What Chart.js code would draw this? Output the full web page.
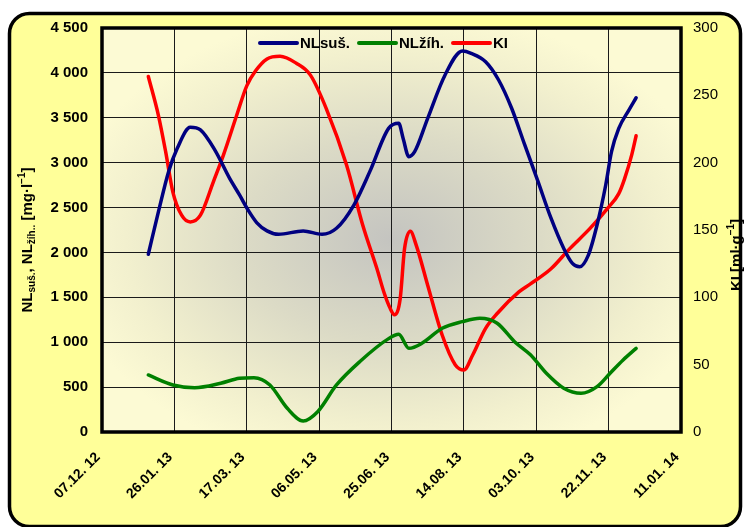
<!DOCTYPE html>
<html>
<head>
<meta charset="utf-8">
<script src="https://cdn.jsdelivr.net/npm/chart.js@4.4.1/dist/chart.umd.min.js"></script>
<style>
html,body{margin:0;padding:0;background:#fff;}
#wrap{width:744px;height:527px;position:relative;}
</style>
</head>
<body>
<div id="wrap"><canvas id="c" width="744" height="527"></canvas></div>
<script>
// ---- Data (x = days after 07.12.2012) ----
const xTickDays = [0, 50, 100, 150, 200, 250, 300, 350, 400];
const xTickLabels = ['07.12. 12', '26.01. 13', '17.03. 13', '06.05. 13', '25.06. 13', '14.08. 13', '03.10. 13', '22.11. 13', '11.01. 14'];

const seriesLabels = ['NLsuš.', 'NLžíh.', 'KI'];
const seriesColors = ['#000080', '#008000', '#FF0000'];

const nlSusDays   = [32, 39, 46, 52, 61, 68, 78, 88, 95, 101, 107, 114, 122, 139, 152, 162, 174, 185, 198, 205, 208, 212, 216, 225, 237, 249, 255, 265, 274, 283, 292, 301, 310, 319, 325, 330, 336, 342, 348, 352, 357, 364, 369];
const nlSusValues = [1980, 2454, 2900, 3160, 3395, 3365, 3140, 2830, 2640, 2470, 2330, 2240, 2202, 2239, 2202, 2269, 2528, 2900, 3382, 3439, 3272, 3067, 3122, 3494, 3977, 4244, 4218, 4124, 3921, 3606, 3200, 2800, 2390, 2045, 1878, 1841, 1971, 2306, 2751, 3122, 3382, 3586, 3723];

const nlZihDays   = [32, 49, 64, 82, 95, 105, 116, 128, 139, 149, 162, 178, 198, 205, 212, 221, 235, 249, 261, 273, 285, 296, 307, 319, 331, 342, 351, 360, 369];
const nlZihValues = [635, 524, 494, 543, 598, 605, 524, 264, 123, 226, 524, 783, 1040, 1088, 932, 988, 1155, 1229, 1266, 1211, 1006, 860, 654, 487, 431, 505, 654, 802, 932];

const kiDays   = [32, 39, 44, 49, 55, 61, 68, 77, 84, 93, 100, 106, 114, 123, 134, 144, 155, 169, 180, 190, 195, 199, 202, 206, 209, 213, 217, 225, 235, 244, 250, 256, 265, 273, 288, 296, 310, 323, 337, 350, 357, 361, 366, 369];
const kiValues = [264, 235, 208, 178, 161, 156, 161, 186, 206, 235, 257, 268, 277, 279, 274, 265, 240, 198, 154, 121, 103, 92, 87, 99, 136, 149, 139, 109, 72, 50, 46, 57, 77, 88, 104, 110, 121, 136, 151, 167, 177, 188, 206, 220];

const leftTitleParts = [
  {t: 'NL', s: 15, dy: 0}, {t: 'suš.', s: 10, dy: 4},
  {t: ', NL', s: 15, dy: 0}, {t: 'žíh..', s: 10, dy: 4},
  {t: ' [mg·l', s: 15, dy: 0}, {t: '−1', s: 10, dy: -6}, {t: ']', s: 15, dy: 0}
];
const rightTitleParts = [
  {t: 'KI [ml·g', s: 15, dy: 0}, {t: '−1', s: 10, dy: -6}, {t: ']', s: 15, dy: 0}
];

const FONT = "'Liberation Sans', Arial, sans-serif";
Chart.defaults.font.family = FONT;
Chart.defaults.color = '#000';

function pts(xs, ys) { return xs.map((x, i) => ({x: x, y: ys[i]})); }
function fmtThousands(v) { return String(v).replace(/\B(?=(\d{3})+(?!\d))/g, ' '); }

function drawRich(ctx, parts, cx, cy) {
  ctx.save();
  ctx.translate(cx, cy);
  ctx.rotate(-Math.PI / 2);
  ctx.textBaseline = 'middle';
  ctx.textAlign = 'left';
  ctx.fillStyle = '#000';
  let total = 0;
  parts.forEach(p => { ctx.font = 'bold ' + p.s + 'px ' + FONT; p.w = ctx.measureText(p.t).width; total += p.w; });
  let x = -total / 2;
  parts.forEach(p => { ctx.font = 'bold ' + p.s + 'px ' + FONT; ctx.fillText(p.t, x, p.dy); x += p.w; });
  ctx.restore();
}

const decorPlugin = {
  id: 'decor',
  beforeDraw(chart) {
    const ctx = chart.ctx;
    const a = chart.chartArea;
    ctx.save();
    ctx.fillStyle = '#fff';
    ctx.fillRect(0, 0, chart.width, chart.height);
    ctx.beginPath();
    ctx.roundRect(9.5, 13.5, 731, 513, 20);
    ctx.fillStyle = '#FFFF99';
    ctx.fill();
    ctx.lineWidth = 3.5;
    ctx.strokeStyle = '#000';
    ctx.stroke();
    // plot area gradient
    ctx.save();
    ctx.beginPath();
    ctx.rect(a.left, a.top, a.right - a.left, a.bottom - a.top);
    ctx.clip();
    const cx = (a.left + a.right) / 2, cy = (a.top + a.bottom) / 2 + 10;
    ctx.translate(cx, cy);
    ctx.scale((a.right - a.left) / 2, (a.bottom - a.top) / 2);
    const g = ctx.createRadialGradient(0, 0, 0, 0, 0, 1.15);
    g.addColorStop(0, '#C4C4C0');
    g.addColorStop(0.45, '#DCDBC6');
    g.addColorStop(0.8, '#F2F0CE');
    g.addColorStop(1, '#FCFAD4');
    ctx.fillStyle = g;
    ctx.fillRect(-2, -2, 4, 4);
    ctx.restore();
    ctx.restore();
  },
  afterDraw(chart) {
    const ctx = chart.ctx;
    const a = chart.chartArea;
    ctx.save();
    ctx.lineWidth = 3.5;
    ctx.strokeStyle = '#000';
    ctx.strokeRect(a.left, a.top, a.right - a.left, a.bottom - a.top);
    // legend
    let x = 260;
    const y = 43;
    ctx.font = 'bold 15px ' + FONT;
    ctx.textBaseline = 'middle';
    chart.data.datasets.forEach(ds => {
      ctx.beginPath();
      ctx.moveTo(x, y);
      ctx.lineTo(x + 37, y);
      ctx.lineWidth = 4;
      ctx.lineCap = 'round';
      ctx.strokeStyle = ds.borderColor;
      ctx.stroke();
      ctx.fillStyle = '#000';
      ctx.fillText(ds.label, x + 40, y + 1);
      x += 40 + ctx.measureText(ds.label).width + 9;
    });
    ctx.restore();
    drawRich(ctx, leftTitleParts, 28, 240);
    drawRich(ctx, rightTitleParts, 737, 255);
  }
};

new Chart(document.getElementById('c'), {
  type: 'line',
  data: {
    datasets: [
      {label: seriesLabels[0], data: pts(nlSusDays, nlSusValues), borderColor: seriesColors[0], yAxisID: 'y'},
      {label: seriesLabels[1], data: pts(nlZihDays, nlZihValues), borderColor: seriesColors[1], yAxisID: 'y'},
      {label: seriesLabels[2], data: pts(kiDays, kiValues), borderColor: seriesColors[2], yAxisID: 'y1'}
    ].map(d => Object.assign(d, {borderWidth: 3.5, pointRadius: 0, cubicInterpolationMode: 'monotone', fill: false, borderCapStyle: 'round', borderJoinStyle: 'round'}))
  },
  options: {
    responsive: false,
    animation: false,
    devicePixelRatio: 1,
    layout: {padding: {top: 28, left: 0, right: 0, bottom: 0}},
    plugins: {legend: {display: false}, tooltip: {enabled: false}},
    scales: {
      x: {
        type: 'linear', min: 0, max: 400,
        afterBuildTicks: s => { s.ticks = xTickDays.map(v => ({value: v})); },
        ticks: {autoSkip: false, minRotation: 45, maxRotation: 45, padding: 17, labelOffset: -4, color: '#000',
                font: {size: 14, weight: 'bold'}, callback: (v, i) => xTickLabels[i]},
        grid: {color: '#1a1a1a', lineWidth: 1, drawTicks: false},
        border: {display: false},
        afterFit: s => { s.height = 95; }
      },
      y: {
        position: 'left', min: 0, max: 4500,
        ticks: {stepSize: 500, padding: 14, color: '#000', font: {size: 15, weight: 'bold'}, callback: v => fmtThousands(v)},
        grid: {color: '#1a1a1a', lineWidth: 1, drawTicks: false},
        border: {display: false},
        afterFit: s => { s.width = 102; }
      },
      y1: {
        position: 'right', min: 0, max: 300,
        ticks: {stepSize: 50, padding: 12, color: '#000', font: {size: 15}},
        grid: {display: false, drawTicks: false},
        border: {display: false},
        afterFit: s => { s.width = 63; }
      }
    }
  },
  plugins: [decorPlugin]
});
</script>
</body>
</html>
